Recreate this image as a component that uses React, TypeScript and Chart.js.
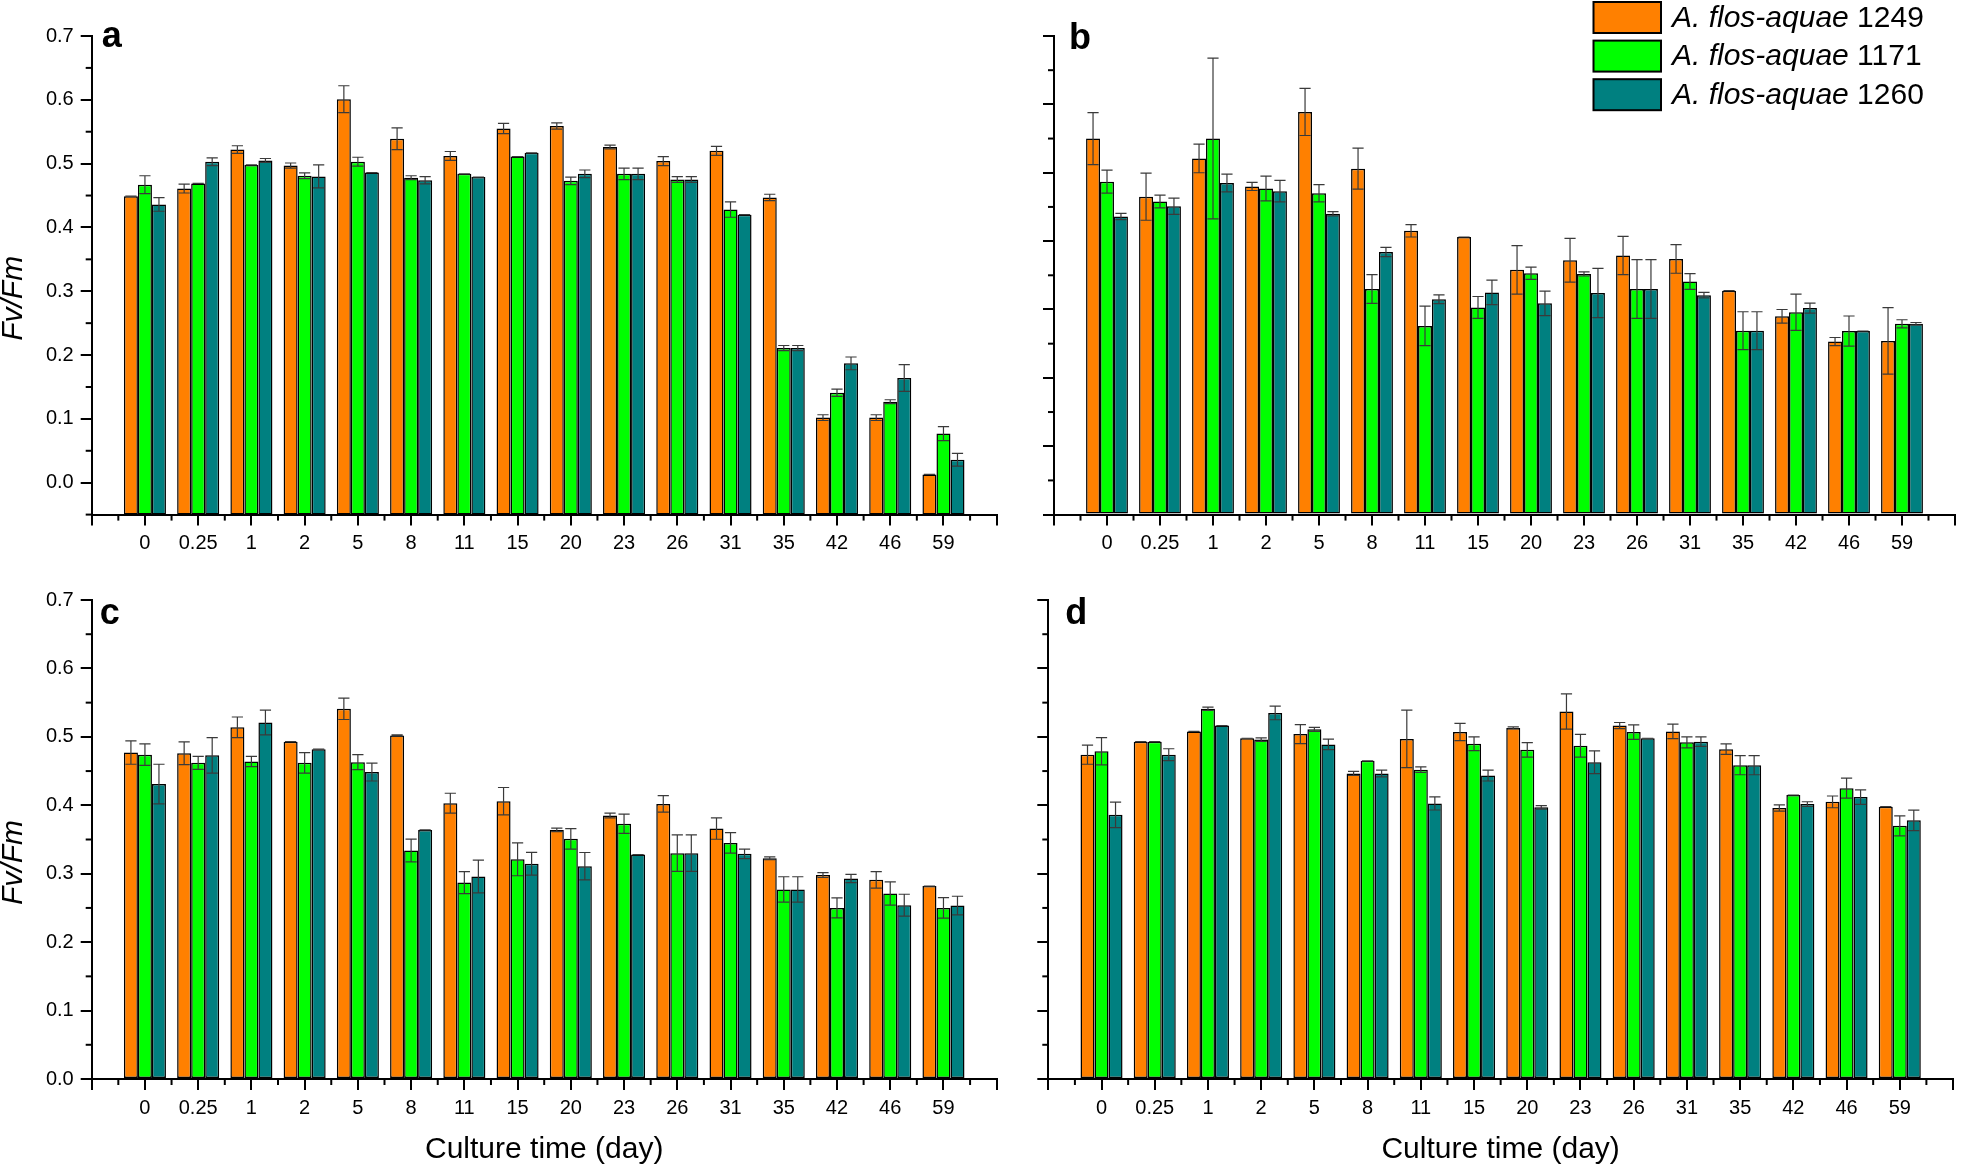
import React, { useEffect, useRef } from 'react';
import { Chart, registerables } from 'chart.js';

Chart.register(...registerables);

// ---------------- data ----------------
const categories = ['0', '0.25', '1', '2', '5', '8', '11', '15', '20', '23', '26', '31', '35', '42', '46', '59'];
const species = 'A. flos-aquae';
const strains = ['1249', '1171', '1260'];
const seriesColors = ['#FF8000', '#00FF00', '#008080'];
const xTitle = 'Culture time (day)';
const yTitle = 'Fv/Fm';

// panel a
const a1249 = [0.449, 0.461, 0.522, 0.497, 0.601, 0.539, 0.512, 0.555, 0.559, 0.526, 0.504, 0.520, 0.447, 0.102, 0.102, 0.013];
const a1249Err = [0, 0.007, 0.006, 0.004, 0.021, 0.017, 0.007, 0.008, 0.005, 0.003, 0.007, 0.007, 0.005, 0.0045, 0.0045, 0];
const a1171 = [0.467, 0.469, 0.498, 0.481, 0.503, 0.478, 0.484, 0.511, 0.473, 0.484, 0.475, 0.428, 0.211, 0.141, 0.127, 0.077];
const a1171Err = [0.014, 0, 0, 0.0045, 0.007, 0.003, 0, 0, 0.006, 0.009, 0.0045, 0.012, 0.004, 0.0056, 0.003, 0.011];
const a1260 = [0.436, 0.503, 0.505, 0.480, 0.486, 0.474, 0.479, 0.517, 0.484, 0.484, 0.475, 0.420, 0.211, 0.187, 0.164, 0.036];
const a1260Err = [0.0106, 0.006, 0.003, 0.018, 0, 0.0056, 0, 0, 0.006, 0.009, 0.0045, 0, 0.004, 0.010, 0.021, 0.010];

// panel b
const b1249 = [0.550, 0.465, 0.521, 0.480, 0.589, 0.506, 0.415, 0.406, 0.358, 0.372, 0.379, 0.374, 0.3275, 0.290, 0.253, 0.254];
const b1249Err = [0.038, 0.0345, 0.021, 0.006, 0.0345, 0.030, 0.009, 0, 0.0355, 0.032, 0.028, 0.021, 0, 0.010, 0.006, 0.0486];
const b1171 = [0.487, 0.458, 0.550, 0.477, 0.470, 0.330, 0.276, 0.303, 0.353, 0.352, 0.330, 0.341, 0.269, 0.296, 0.2685, 0.279];
const b1171Err = [0.0167, 0.0094, 0.1175, 0.018, 0.0125, 0.021, 0.029, 0.016, 0.009, 0.003, 0.043, 0.0115, 0.0277, 0.0266, 0.022, 0.006];
const b1260 = [0.436, 0.451, 0.485, 0.473, 0.440, 0.384, 0.315, 0.325, 0.309, 0.324, 0.330, 0.321, 0.269, 0.302, 0.2685, 0.279];
const b1260Err = [0.0047, 0.012, 0.013, 0.0157, 0.003, 0.0068, 0.0063, 0.018, 0.018, 0.036, 0.043, 0.004, 0.0277, 0.0073, 0, 0.002];

// panel c
const c1249 = [0.477, 0.476, 0.514, 0.493, 0.541, 0.502, 0.403, 0.406, 0.364, 0.385, 0.402, 0.366, 0.3225, 0.298, 0.291, 0.282];
const c1249Err = [0.017, 0.0166, 0.015, 0, 0.0156, 0.001, 0.0146, 0.020, 0.0025, 0.0035, 0.012, 0.0156, 0.002, 0.0035, 0.012, 0];
const c1171 = [0.474, 0.462, 0.464, 0.462, 0.463, 0.334, 0.287, 0.321, 0.351, 0.373, 0.330, 0.345, 0.277, 0.250, 0.271, 0.250];
const c1171Err = [0.0156, 0.0096, 0.0076, 0.015, 0.011, 0.0166, 0.016, 0.024, 0.015, 0.014, 0.0267, 0.015, 0.0186, 0.0146, 0.017, 0.015];
const c1260 = [0.431, 0.473, 0.521, 0.482, 0.4485, 0.364, 0.296, 0.3145, 0.311, 0.328, 0.330, 0.329, 0.277, 0.293, 0.254, 0.2535];
const c1260Err = [0.029, 0.026, 0.018, 0, 0.013, 0, 0.024, 0.0166, 0.020, 0, 0.0267, 0.007, 0.0186, 0.006, 0.016, 0.0136];

// panel d
const d1249 = [0.474, 0.493, 0.508, 0.498, 0.504, 0.4465, 0.497, 0.507, 0.513, 0.537, 0.5165, 0.508, 0.482, 0.396, 0.405, 0.398];
const d1249Err = [0.014, 0, 0, 0, 0.014, 0.003, 0.042, 0.0126, 0.0015, 0.0257, 0.0045, 0.0106, 0.0076, 0.0045, 0.0086, 0];
const d1171 = [0.479, 0.493, 0.541, 0.496, 0.511, 0.465, 0.452, 0.490, 0.481, 0.487, 0.507, 0.492, 0.4586, 0.415, 0.425, 0.370];
const d1171Err = [0.020, 0, 0.0025, 0.0025, 0.003, 0, 0.004, 0.010, 0.0106, 0.0166, 0.0106, 0.008, 0.014, 0, 0.0146, 0.0146];
const d1260 = [0.386, 0.474, 0.5165, 0.535, 0.489, 0.4465, 0.4027, 0.4435, 0.397, 0.463, 0.498, 0.493, 0.4586, 0.4017, 0.412, 0.378];
const d1260Err = [0.0186, 0.0086, 0, 0.010, 0.0076, 0.005, 0.0096, 0.008, 0.0025, 0.0166, 0, 0.007, 0.014, 0.0035, 0.0106, 0.015];

// ---------------- styling / layout ----------------
const FONT = '"Liberation Sans", Arial, Helvetica, sans-serif';

type PanelCfg = {
  letter: string;
  left: number; top: number; width: number; height: number;
  padTop: number; padRight: number; yWidth: number; xHeight: number;
  yMin: number;
  showYLabels: boolean; showYTitle: boolean; showXTitle: boolean; showLegend: boolean;
  letterDx: number; letterBaseline: number;
  series: number[][]; errors: number[][];
};

const panels: PanelCfg[] = [
  {
    letter: 'a', left: 0, top: 0, width: 1010, height: 560,
    padTop: 36, padRight: 13.3, yWidth: 91.7, xHeight: 45.4, yMin: -0.05,
    showYLabels: true, showYTitle: true, showXTitle: false, showLegend: false,
    letterDx: 10, letterBaseline: 47,
    series: [a1249, a1171, a1260], errors: [a1249Err, a1171Err, a1260Err],
  },
  {
    letter: 'b', left: 1000, top: 0, width: 961, height: 560,
    padTop: 36, padRight: 1.7, yWidth: 54, xHeight: 45.4, yMin: 0,
    showYLabels: false, showYTitle: false, showXTitle: false, showLegend: true,
    letterDx: 15, letterBaseline: 49,
    series: [b1249, b1171, b1260], errors: [b1249Err, b1171Err, b1260Err],
  },
  {
    letter: 'c', left: 0, top: 560, width: 1010, height: 608,
    padTop: 40, padRight: 13.3, yWidth: 91.7, xHeight: 89, yMin: 0,
    showYLabels: true, showYTitle: true, showXTitle: true, showLegend: false,
    letterDx: 8, letterBaseline: 64,
    series: [c1249, c1171, c1260], errors: [c1249Err, c1171Err, c1260Err],
  },
  {
    letter: 'd', left: 1000, top: 560, width: 961, height: 608,
    padTop: 40, padRight: 8, yWidth: 48.3, xHeight: 89, yMin: 0,
    showYLabels: false, showYTitle: false, showXTitle: true, showLegend: false,
    letterDx: 17, letterBaseline: 64,
    series: [d1249, d1171, d1260], errors: [d1249Err, d1171Err, d1260Err],
  },
];

// ---------------- plugins ----------------
const errorBarPlugin = {
  id: 'errorBars',
  afterDatasetsDraw(chart: any) {
    const ctx = chart.ctx;
    const yScale = chart.scales.y;
    ctx.save();
    ctx.strokeStyle = '#3a3a3a';
    ctx.lineWidth = 1.2;
    chart.data.datasets.forEach((ds: any, di: number) => {
      const meta = chart.getDatasetMeta(di);
      meta.data.forEach((el: any, i: number) => {
        const v = ds.data[i];
        const e = ds.errors ? ds.errors[i] : null;
        if (v == null || e == null) return;
        const x = el.x;
        const half = el.width * 0.4;
        const yT = yScale.getPixelForValue(v + e);
        const yB = yScale.getPixelForValue(v - e);
        ctx.beginPath();
        ctx.moveTo(x, yT); ctx.lineTo(x, yB);
        ctx.moveTo(x - half, yT); ctx.lineTo(x + half, yT);
        ctx.moveTo(x - half, yB); ctx.lineTo(x + half, yB);
        ctx.stroke();
      });
    });
    ctx.restore();
  },
};

const minorTicksPlugin = {
  id: 'minorTicks',
  afterDraw(chart: any) {
    const ctx = chart.ctx;
    const xs = chart.scales.x;
    const ys = chart.scales.y;
    const len = 6;
    ctx.save();
    ctx.strokeStyle = '#000';
    ctx.lineWidth = 2;
    const n = xs.ticks.length;
    for (let i = 0; i < n - 1; i++) {
      const px = (xs.getPixelForTick(i) + xs.getPixelForTick(i + 1)) / 2;
      ctx.beginPath();
      ctx.moveTo(px, xs.top);
      ctx.lineTo(px, xs.top + len);
      ctx.stroke();
    }
    const kMin = Math.round(ys.min / 0.05);
    const kMax = Math.round(ys.max / 0.05);
    for (let k = kMin; k <= kMax; k++) {
      if (Math.abs(k) % 2 === 1) {
        const py = ys.getPixelForValue(k * 0.05);
        ctx.beginPath();
        ctx.moveTo(ys.right - len, py);
        ctx.lineTo(ys.right, py);
        ctx.stroke();
      }
    }
    ctx.restore();
  },
};

function makeTextPlugin(cfg: PanelCfg) {
  return {
    id: 'panelText',
    afterDraw(chart: any) {
      const ctx = chart.ctx;
      const area = chart.chartArea;
      ctx.save();
      ctx.fillStyle = '#000';
      // panel letter
      ctx.font = `bold 36px ${FONT}`;
      ctx.textAlign = 'left';
      ctx.textBaseline = 'alphabetic';
      ctx.fillText(cfg.letter, area.left + cfg.letterDx, cfg.letterBaseline);
      // y title
      if (cfg.showYTitle) {
        ctx.save();
        ctx.translate(13.5, (area.top + area.bottom) / 2 + 23);
        ctx.rotate(-Math.PI / 2);
        ctx.font = `italic 30px ${FONT}`;
        ctx.textAlign = 'center';
        ctx.textBaseline = 'middle';
        ctx.fillText(yTitle, 0, 0);
        ctx.restore();
      }
      // legend
      if (cfg.showLegend) {
        const boxX = 593.5, boxW = 67.5, boxH = 31, pitch = 38.6, top0 = 2;
        const textX = 672;
        strains.forEach((s, i) => {
          const y = top0 + i * pitch;
          ctx.fillStyle = seriesColors[i];
          ctx.fillRect(boxX, y, boxW, boxH);
          ctx.strokeStyle = '#000';
          ctx.lineWidth = 2;
          ctx.strokeRect(boxX, y, boxW, boxH);
          ctx.fillStyle = '#000';
          ctx.textAlign = 'left';
          ctx.textBaseline = 'middle';
          ctx.font = `italic 30px ${FONT}`;
          const itText = species + ' ';
          ctx.fillText(itText, textX, y + boxH / 2 + 1);
          const w = ctx.measureText(itText).width;
          ctx.font = `30px ${FONT}`;
          ctx.fillText(s, textX + w, y + boxH / 2 + 1);
        });
      }
      ctx.restore();
    },
  };
}

// ---------------- components ----------------
function Panel({ cfg }: { cfg: PanelCfg }) {
  const ref = useRef<HTMLCanvasElement | null>(null);
  useEffect(() => {
    if (!ref.current) return;
    const labels = ['', ...categories, ''];
    const chart = new Chart(ref.current, {
      type: 'bar',
      data: {
        labels,
        datasets: strains.map((s, si) => ({
          label: `${species} ${s}`,
          data: [null, ...cfg.series[si], null],
          errors: [null, ...cfg.errors[si], null],
          backgroundColor: seriesColors[si],
          borderColor: '#000',
          borderWidth: 1.5,
          borderSkipped: false,
          base: cfg.yMin,
          categoryPercentage: 0.79,
          barPercentage: 1.0,
        })) as any,
      },
      options: {
        responsive: false,
        animation: false,
        events: [],
        layout: { padding: { top: cfg.padTop, right: cfg.padRight, left: 0, bottom: 0 } },
        plugins: {
          legend: { display: false },
          tooltip: { enabled: false },
        },
        scales: {
          x: {
            type: 'category',
            offset: false,
            grid: {
              offset: false,
              drawOnChartArea: false,
              drawTicks: true,
              tickLength: 11,
              lineWidth: 2,
              tickColor: '#000',
              color: '#000',
            },
            border: { display: true, color: '#000', width: 2 },
            ticks: {
              autoSkip: false,
              maxRotation: 0,
              minRotation: 0,
              padding: 6,
              color: '#000',
              font: { family: FONT, size: 20 },
            },
            title: {
              display: cfg.showXTitle,
              text: xTitle,
              color: '#000',
              font: { family: FONT, size: 30 },
              padding: { top: 0, bottom: 0 },
            },
            afterFit: (scale: any) => { scale.height = cfg.xHeight; },
          },
          y: {
            type: 'linear',
            min: cfg.yMin,
            max: 0.7,
            grid: {
              drawOnChartArea: false,
              drawTicks: true,
              tickLength: 11,
              lineWidth: 2,
              tickColor: '#000',
              color: '#000',
            },
            border: { display: true, color: '#000', width: 2 },
            ticks: {
              stepSize: 0.1,
              includeBounds: false,
              padding: 7,
              color: '#000',
              font: { family: FONT, size: 20 },
              callback: (v: any) => (cfg.showYLabels ? Number(v).toFixed(1) : ''),
            },
            afterFit: (scale: any) => { scale.width = cfg.yWidth; },
          },
        },
      } as any,
      plugins: [errorBarPlugin, minorTicksPlugin, makeTextPlugin(cfg)],
    });
    return () => chart.destroy();
  }, [cfg]);
  return (
    <canvas
      ref={ref}
      width={cfg.width}
      height={cfg.height}
      style={{ position: 'absolute', left: cfg.left, top: cfg.top, width: cfg.width, height: cfg.height }}
    />
  );
}

export default function App() {
  return (
    <div style={{ position: 'absolute', left: 0, top: 0, width: 1961, height: 1168, background: '#fff', overflow: 'hidden' }}>
      {panels.map((p) => (
        <Panel key={p.letter} cfg={p} />
      ))}
    </div>
  );
}
